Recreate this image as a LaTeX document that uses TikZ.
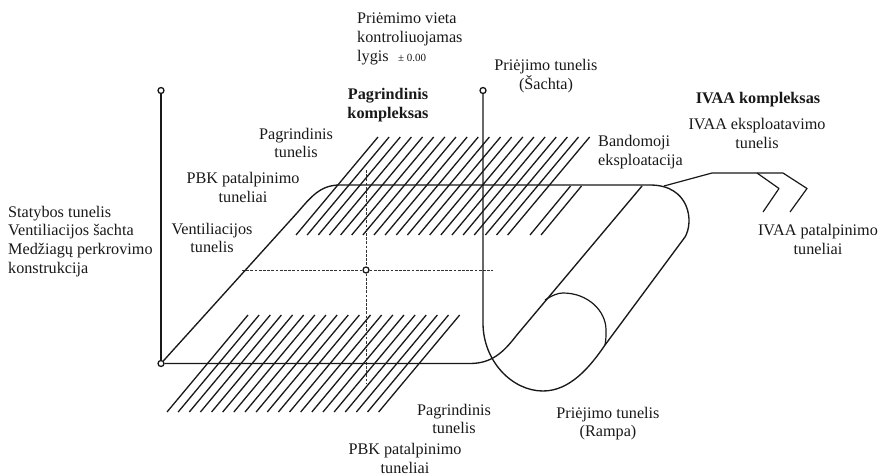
\documentclass[tikz,border=0pt]{standalone}
\usepackage{fontspec}
\setmainfont{Liberation Serif}
\begin{document}
\begin{tikzpicture}[x=1pt,y=-1pt,
  line/.style={draw=black!90,line width=1.35pt,line join=round},
  thin line/.style={draw=black!90,line width=1.2pt,line join=round},
  hatch/.style={draw=black!90,line width=1.3pt},
  dash line/.style={draw=black!80,line width=.9pt,dash pattern=on 2.8pt off 1.4pt},
  pin/.style={circle,draw=black!90,fill=white,line width=1.3pt,inner sep=0pt,minimum size=6pt},
  lab/.style={font=\fontsize{16.2}{18.8}\selectfont,text=black!90,align=center,inner sep=0pt},
  labl/.style={lab,align=left,anchor=west},
  blab/.style={lab,font=\fontsize{16.2}{18.8}\selectfont\bfseries}]
\useasboundingbox (0,0) rectangle (880,476);
\fill[white] (0,0) rectangle (880,476);
% hatching
\foreach \i in {0,...,19}{
  \draw[hatch] ({296+\i*11.14},235) -- ({378+\i*11.14},137);
  \draw[hatch] ({167+\i*11.14},412) -- ({248+\i*11.14},315);
}
\draw[hatch] (530,235) -- (570.5,186);
\draw[hatch] (541,235) -- (581.5,186);
% named points
\node[pin] (pa) at (161,90.5) {};
\node[pin] (pb) at (483,90.5) {};
\node[pin] (pc) at (161,363.5) {};
\node[pin] (pd) at (366,270) {};
\coordinate (dw) at (242,270);
\coordinate (de) at (493,270);
\coordinate (dn) at (366,170);
\coordinate (ds) at (366,383);
% dashed axes
\draw[dash line] (dw) -- (pd);
\draw[dash line] (pd) -- (de);
\draw[dash line] (dn) -- (pd);
\draw[dash line] (pd) -- (ds);
% main tunnel outline
\draw[line] (pa) -- (pc);
\draw[line] (pc) -- (297,213) .. controls (311,197) and (320,185) .. (340,185) -- (650,185);
\draw[line] (pc) -- (470,363.5) .. controls (491,363.5) and (503,353) .. (516,336) -- (642,186);
% access shaft and ramp loop
\draw[line] (pb) -- (483,323) .. controls (483,361) and (512,391) .. (543,391)
   .. controls (570,391) and (590,367) .. (605,345) -- (685,237)
   .. controls (694,222) and (690,185) .. (650,185);
% circle at ramp end
\draw[thin line] (545,300) .. controls (553,295) and (558,293) .. (563,293)
   .. controls (588,293) and (606,311) .. (606,330) .. controls (606,336) and (606,340) .. (605,345);
% IVAA tunnels
\draw[thin line] (664,186) -- (712,173) -- (783,173) -- (807,188.5) -- (790,212);
\draw[thin line] (757,173) -- (779,188.5) -- (763,212);
% labels
\node[labl] (t1) at (357,39) {Priėmimo vieta\\kontroliuojamas\\lygis\,\, {\fontsize{11}{12}\selectfont ± 0.00}};
\node[lab] (t2) at (546,76.5) {Priėjimo tunelis\\(Šachta)};
\node[blab] (t3) at (388,105) {Pagrindinis\\kompleksas};
\node[lab] (t4) at (296,143) {Pagrindinis\\tunelis};
\node[lab] (t5) at (243,187.5) {PBK patalpinimo\\tuneliai};
\node[lab] (t6) at (212,238) {Ventiliacijos\\tunelis};
\node[labl] (t7) at (8,241.5) {Statybos tunelis\\Ventiliacijos šachta\\Medžiagų perkrovimo\\konstrukcija};
\node[lab] (t8) at (454,419) {Pagrindinis\\tunelis};
\node[lab] (t9) at (405,458.5) {PBK patalpinimo\\tuneliai};
\node[lab] (t10) at (608,423.5) {Priėjimo tunelis\\(Rampa)};
\node[labl] (t11) at (598,152) {Bandomoji\\eksploatacija};
\node[blab] (t12) at (758,99.5) {IVAA kompleksas};
\node[lab] (t13) at (757,133.5) {IVAA eksploatavimo\\tunelis};
\node[lab] (t14) at (818,239.5) {IVAA patalpinimo\\tuneliai};
\end{tikzpicture}
\end{document}
